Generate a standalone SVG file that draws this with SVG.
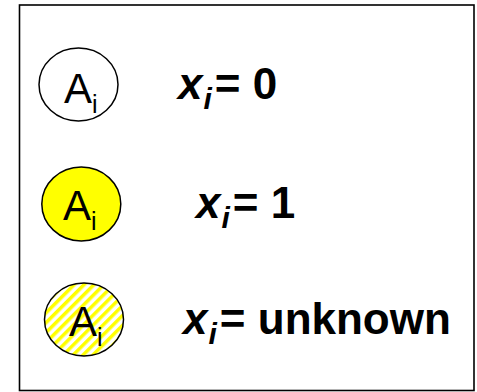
<svg xmlns="http://www.w3.org/2000/svg" width="477" height="392" viewBox="0 0 477 392">
<style>
.node{stroke:#000;stroke-width:1.5}
.lbl{font-family:"Liberation Sans",Arial,sans-serif;font-size:42px;fill:#000}
.sub{font-family:"Liberation Sans",Arial,sans-serif;font-size:25px;fill:#000}
.eq{font-family:"Liberation Sans",Arial,sans-serif;font-size:44px;font-weight:bold;fill:#000}
.eqs{font-size:30px;font-style:italic}
</style>
<defs>
<pattern id="hatch" patternUnits="userSpaceOnUse" width="7" height="7" patternTransform="rotate(45)">
<rect width="7" height="7" fill="#fff"/>
<rect width="3.5" height="7" fill="#ffff00"/>
</pattern>
</defs>
<rect x="19.5" y="5" width="454.5" height="385.5" fill="#fff" stroke="#000" stroke-width="1.6"/>
<g id="node0">
<ellipse class="node" cx="78.5" cy="84.5" rx="39.5" ry="36.5" fill="#fff"/>
<text class="lbl" x="64" y="103">A</text><text class="sub" x="92" y="113">i</text>
</g>
<g id="node1">
<ellipse class="node" cx="81.3" cy="204" rx="39.5" ry="37" fill="#ffff00"/>
<text class="lbl" x="63" y="220">A</text><text class="sub" x="91" y="230">i</text>
</g>
<g id="node2">
<ellipse class="node" cx="84" cy="319.5" rx="39.5" ry="36.5" fill="url(#hatch)"/>
<text class="lbl" x="69" y="336">A</text><text class="sub" x="97" y="346">i</text>
</g>
<g id="label0">
<text class="eq" x="178" y="99"><tspan font-style="italic">x</tspan><tspan class="eqs" dx="1" dy="10">i</tspan><tspan dx="3" dy="-10">= 0</tspan></text>
</g>
<g id="label1">
<text class="eq" x="196" y="218"><tspan font-style="italic">x</tspan><tspan class="eqs" dx="1" dy="10">i</tspan><tspan dx="3" dy="-10">= 1</tspan></text>
</g>
<g id="label2">
<text class="eq" x="183" y="334"><tspan font-style="italic">x</tspan><tspan class="eqs" dx="1" dy="10">i</tspan><tspan dx="3" dy="-10">= unknown</tspan></text>
</g>
<g id="connectors"></g>
</svg>
